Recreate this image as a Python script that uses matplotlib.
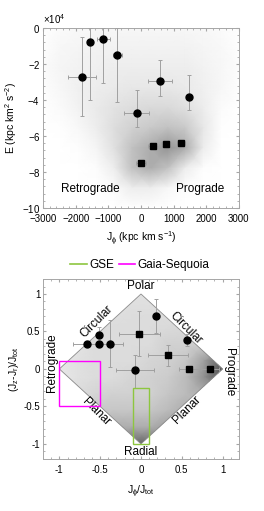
"""
Energy vs J_phi and action diamond for halo substructures
"""

import matplotlib
matplotlib.use('Agg')
import matplotlib.pyplot as plt
from matplotlib.patches import Polygon, Rectangle
from matplotlib.lines import Line2D
from matplotlib.ticker import AutoMinorLocator
import numpy as np

plt.rcParams['font.family'] = ['Liberation Sans', 'DejaVu Sans']
plt.rcParams['mathtext.default'] = 'regular'

# ---- top panel: E vs J_phi ----
circ_jphi = [-1800, -1560, -1150, -720, -130, 590, 1470]
circ_jphi_err = [430, 60, 200, 150, 380, 360, 90]
circ_E = [-27000, -7700, -6300, -15100, -47100, -29300, -38100]
circ_E_lo = [22000, 32000, 24000, 26000, 8000, 8300, 7600]
circ_E_hi = [22000, 7700, 6300, 15100, 12500, 11800, 11900]

sq_jphi = [10, 380, 760, 1220]
sq_jphi_err = [150, 180, 150, 120]
sq_E = [-75100, -65600, -64300, -64100]
sq_E_err = [1500, 1500, 1500, 1500]

# background density of the halo sample
# (columns J_phi = -3000 .. 3000, rows E = 0 .. -1e5)
dens_top = [
    [0.00, 0.05, 0.08, 0.10, 0.10, 0.10, 0.10, 0.10, 0.10, 0.08, 0.05, 0.02],
    [0.02, 0.10, 0.12, 0.15, 0.15, 0.15, 0.15, 0.15, 0.15, 0.12, 0.08, 0.02],
    [0.05, 0.12, 0.15, 0.18, 0.20, 0.20, 0.20, 0.20, 0.20, 0.15, 0.10, 0.03],
    [0.03, 0.10, 0.18, 0.20, 0.22, 0.25, 0.25, 0.25, 0.22, 0.18, 0.10, 0.02],
    [0.01, 0.06, 0.15, 0.22, 0.28, 0.32, 0.35, 0.35, 0.30, 0.20, 0.05, 0.00],
    [0.00, 0.02, 0.08, 0.20, 0.32, 0.40, 0.45, 0.50, 0.45, 0.25, 0.02, 0.00],
    [0.00, 0.00, 0.03, 0.12, 0.30, 0.50, 0.60, 0.70, 0.60, 0.20, 0.00, 0.00],
    [0.00, 0.00, 0.01, 0.04, 0.20, 0.50, 0.60, 0.50, 0.20, 0.03, 0.00, 0.00],
    [0.00, 0.00, 0.00, 0.01, 0.05, 0.20, 0.20, 0.10, 0.02, 0.00, 0.00, 0.00],
    [0.00, 0.00, 0.00, 0.00, 0.00, 0.02, 0.02, 0.00, 0.00, 0.00, 0.00, 0.00],
]

# ---- bottom panel: action diamond ----
d_circ_x = [-0.66, -0.52, -0.51, -0.38, -0.07, 0.18, 0.56]
d_circ_xerr = [0.17, 0.03, 0.03, 0.16, 0.23, 0.03, 0.03]
d_circ_y = [0.33, 0.45, 0.33, 0.33, -0.02, 0.71, 0.39]
d_circ_ylo = [0.03, 0.03, 0.03, 0.30, 0.23, 0.23, 0.08]
d_circ_yhi = [0.03, 0.11, 0.03, 0.32, 0.21, 0.22, 0.08]

d_sq_x = [-0.02, 0.33, 0.59, 0.85]
d_sq_xerr = [0.25, 0.25, 0.13, 0.11]
d_sq_y = [0.47, 0.18, 0.00, 0.00]
d_sq_yerr = [0.30, 0.14, 0.02, 0.02]

# density inside the diamond (columns x = -1 .. 1, rows y = 1 .. -1)
dens_dia = [
    [0.20, 0.20, 0.20, 0.20, 0.22, 0.22, 0.20, 0.20, 0.20, 0.20],
    [0.22, 0.22, 0.22, 0.22, 0.24, 0.24, 0.24, 0.24, 0.24, 0.24],
    [0.22, 0.22, 0.24, 0.25, 0.25, 0.25, 0.26, 0.27, 0.28, 0.28],
    [0.20, 0.20, 0.25, 0.25, 0.25, 0.25, 0.30, 0.30, 0.32, 0.35],
    [0.18, 0.22, 0.25, 0.25, 0.25, 0.28, 0.30, 0.35, 0.50, 0.75],
    [0.18, 0.22, 0.25, 0.25, 0.28, 0.30, 0.32, 0.40, 0.55, 0.80],
    [0.20, 0.25, 0.28, 0.30, 0.30, 0.30, 0.35, 0.40, 0.45, 0.45],
    [0.20, 0.30, 0.35, 0.35, 0.35, 0.35, 0.40, 0.45, 0.40, 0.30],
    [0.20, 0.30, 0.40, 0.45, 0.45, 0.45, 0.50, 0.50, 0.40, 0.30],
    [0.30, 0.40, 0.50, 0.60, 0.70, 0.70, 0.60, 0.50, 0.40, 0.30],
]

gse_box = [-0.1, -1.0, 0.2, 0.75]
seq_box = [-1.0, -0.5, 0.5, 0.6]

ebar = dict(fmt='none', ecolor='#a0a0a0', elinewidth=0.7, capsize=1.5, capthick=0.7, zorder=3)
frame = '#a6a6a6'


def matlab_axes(ax):
    for s in ax.spines.values():
        s.set_color(frame)
        s.set_linewidth(0.7)
    ax.tick_params(which='both', direction='in', top=True, right=True,
                   color=frame, labelsize=7, pad=2)
    ax.tick_params(axis='x', which='major', pad=4.5)
    ax.tick_params(which='major', length=2.5)
    ax.tick_params(which='minor', length=1.2)
    ax.xaxis.set_minor_locator(AutoMinorLocator(5))
    ax.yaxis.set_minor_locator(AutoMinorLocator(5))


fig = plt.figure(figsize=(2.64, 5.11), dpi=100)

# top
ax1 = fig.add_axes([0.163, 0.593, 0.742, 0.352])
dt = np.array(dens_top)
gx = np.linspace(-3000, 3000, dt.shape[1])
gy = np.linspace(0, -100000, dt.shape[0])
ax1.pcolormesh(gx, gy, dt, cmap='Greys', vmin=0, vmax=1.4, shading='gouraud', zorder=0)
ax1.errorbar(circ_jphi, circ_E, xerr=circ_jphi_err, yerr=[circ_E_lo, circ_E_hi], **ebar)
ax1.errorbar(sq_jphi, sq_E, xerr=sq_jphi_err, yerr=sq_E_err, **ebar)
ax1.plot(circ_jphi, circ_E, 'ko', ms=5, zorder=4)
ax1.plot(sq_jphi, sq_E, 'ks', ms=4, zorder=4)
ax1.text(-1560, -89500, 'Retrograde', ha='center', va='center', fontsize=8.5)
ax1.text(1820, -89500, 'Prograde', ha='center', va='center', fontsize=8.5)
ax1.set_xlim(-3000, 3000)
ax1.set_ylim(-100000, 0)
ax1.set_xticks([-3000, -2000, -1000, 0, 1000, 2000, 3000])
ax1.set_yticks([-100000, -80000, -60000, -40000, -20000, 0])
ax1.ticklabel_format(axis='y', style='sci', scilimits=(4, 4), useMathText=True)
ax1.yaxis.get_offset_text().set_fontsize(7)
matlab_axes(ax1)
ax1.set_xlabel(r'J$_\phi$ (kpc km s$^{-1}$)', fontsize=7.5, labelpad=4)
ax1.set_ylabel(r'E (kpc km$^2$ s$^{-2}$)', fontsize=7.5, labelpad=2)

# bottom
ax2 = fig.add_axes([0.163, 0.102, 0.742, 0.352])
dd = np.array(dens_dia)
hx = np.linspace(-1, 1, dd.shape[1])
hy = np.linspace(1, -1, dd.shape[0])
mesh = ax2.pcolormesh(hx, hy, dd, cmap='Greys', vmin=0, vmax=1.05, shading='gouraud', zorder=0)
diamond = Polygon([[-1, 0], [0, 1], [1, 0], [0, -1]], closed=True, facecolor='none',
                  edgecolor='#8c8c8c', linewidth=0.6, zorder=1)
ax2.add_patch(diamond)
mesh.set_clip_path(diamond)
ax2.errorbar(d_circ_x, d_circ_y, xerr=d_circ_xerr, yerr=[d_circ_ylo, d_circ_yhi], **ebar)
ax2.errorbar(d_sq_x, d_sq_y, xerr=d_sq_xerr, yerr=d_sq_yerr, **ebar)
ax2.plot(d_circ_x, d_circ_y, 'ko', ms=5, zorder=4)
ax2.plot(d_sq_x, d_sq_y, 'ks', ms=4, zorder=4)
ax2.add_patch(Rectangle(gse_box[:2], gse_box[2], gse_box[3], fill=False,
                        edgecolor='#8dc63f', linewidth=1.0, zorder=5))
ax2.add_patch(Rectangle(seq_box[:2], seq_box[2], seq_box[3], fill=False,
                        edgecolor='#ff00ff', linewidth=1.0, zorder=5))

fs = 8.5
ax2.text(0, 1.03, 'Polar', ha='center', va='bottom', fontsize=fs)
ax2.text(-0.55, 0.63, 'Circular', ha='center', va='center', rotation=45, fontsize=fs)
ax2.text(0.55, 0.55, 'Circular', ha='center', va='center', rotation=-45, fontsize=fs)
ax2.text(-1.09, 0.09, 'Retrograde', ha='center', va='center', rotation=90, fontsize=fs)
ax2.text(1.08, -0.04, 'Prograde', ha='center', va='center', rotation=-90, fontsize=fs)
ax2.text(-0.55, -0.57, 'Planar', ha='center', va='center', rotation=-45, fontsize=fs)
ax2.text(0.56, -0.55, 'Planar', ha='center', va='center', rotation=45, fontsize=fs)
ax2.text(0.0, -1.03, 'Radial', ha='center', va='top', fontsize=fs)

ax2.set_xlim(-1.2, 1.2)
ax2.set_ylim(-1.2, 1.2)
ax2.set_xticks([-1, -0.5, 0, 0.5, 1])
ax2.set_yticks([-1, -0.5, 0, 0.5, 1])
ax2.set_xticklabels(['-1', '-0.5', '0', '0.5', '1'])
ax2.set_yticklabels(['-1', '-0.5', '0', '0.5', '1'])
matlab_axes(ax2)
ax2.set_xlabel(r'J$_\phi$/J$_{tot}$', fontsize=7.5, labelpad=6)
ax2.set_ylabel(r'(J$_z$-J$_r$)/J$_{tot}$', fontsize=7.5, labelpad=2)

handles = [Line2D([], [], color='#8dc63f', lw=1.2), Line2D([], [], color='#ff00ff', lw=1.2)]
fig.legend(handles, ['GSE', 'Gaia-Sequoia'], loc='center', ncol=2, frameon=False,
           bbox_to_anchor=(0.53, 1 - 265 / 511), fontsize=8.5, handlelength=1.4,
           handletextpad=0.2, columnspacing=0.4)

fig.savefig('out.png', dpi=100)
